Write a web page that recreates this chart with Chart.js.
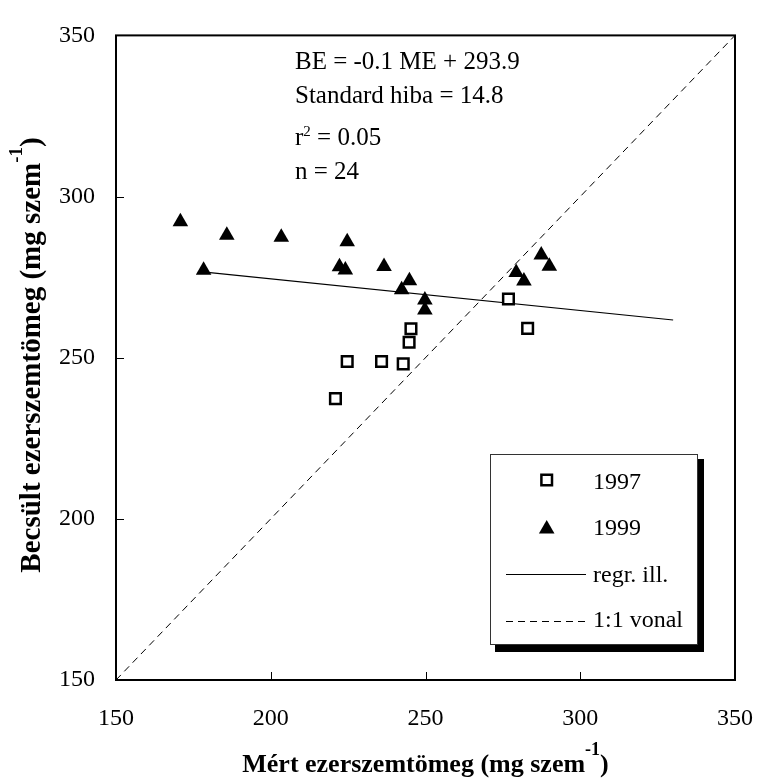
<!DOCTYPE html>
<html>
<head>
<meta charset="utf-8">
<script src="https://cdn.jsdelivr.net/npm/chart.js@4"></script>
<style>
	body { margin: 0; background: #fff; }
</style>
</head>
<body>
<canvas id="myChart" width="777" height="778"></canvas>
<script>

// 1997 (open squares)
const x1997 = [276.8, 283.0, 245.3, 244.7, 224.7, 235.8, 242.8, 220.9]
const y1997 = [268.2, 259.1, 259.0, 254.8, 248.8, 248.8, 248.1, 237.3]

// 1999 (filled triangles)
const x1999 = [170.8, 185.8, 203.4, 224.7, 178.3, 222.2, 224.1, 236.6, 244.8, 242.3, 249.8, 249.8, 287.4, 290.0, 279.3, 281.8]
const y1999 = [292.2, 288.0, 287.4, 286.0, 277.1, 278.2, 277.2, 278.3, 273.9, 271.1, 267.9, 264.8, 281.9, 278.4, 276.4, 273.8]

// regression line ends and the 1:1 line
const regX = [178, 330]
const regY = [276.6, 261.7]
const diagX = [150, 350]
const diagY = [150, 350]

const tickValues = [150, 200, 250, 300, 350]

const statLines = ['BE = -0.1 ME + 293.9', 'Standard hiba = 14.8', '0.05', 'n = 24']
const legendLabels = ['1997', '1999', 'regr. ill.', '1:1 vonal']

const serif = "'Liberation Serif', 'Times New Roman', serif"

function toPoints(xs, ys) {
	return xs.map((x, i) => ({ x: x, y: ys[i] }))
}

// draws text made of pieces (for superscripts)
function richText(ctx, parts, x, y, align) {
	let total = 0
	parts.forEach(p => {
		ctx.font = p.font
		p.w = ctx.measureText(p.text).width
		total += p.w
	})
	let cx = align === 'center' ? x - total / 2 : x
	ctx.textAlign = 'left'
	ctx.textBaseline = 'alphabetic'
	parts.forEach(p => {
		ctx.font = p.font
		ctx.fillText(p.text, cx, y + (p.dy || 0))
		cx += p.w
	})
}

function square(ctx, x, y) {
	const s = 5.3
	ctx.fillStyle = '#fff'
	ctx.strokeStyle = '#000'
	ctx.lineWidth = 2.5
	ctx.beginPath()
	ctx.rect(x - s, y - s, 2 * s, 2 * s)
	ctx.fill()
	ctx.stroke()
}

function triangle(ctx, x, y) {
	const r = 9
	ctx.fillStyle = '#000'
	ctx.beginPath()
	for (let i = 0; i < 3; i++) {
		const a = i * 2 * Math.PI / 3
		const px = x + Math.sin(a) * r
		const py = y - Math.cos(a) * r
		if (i == 0) ctx.moveTo(px, py)
		else ctx.lineTo(px, py)
	}
	ctx.closePath()
	ctx.fill()
}

const chartDecor = {
	id: 'chartDecor',
	afterDraw(chart) {
		const ctx = chart.ctx
		const area = chart.chartArea
		const xs = chart.scales.x
		const ys = chart.scales.y
		ctx.save()

		// frame
		ctx.strokeStyle = '#000'
		ctx.lineWidth = 2
		ctx.strokeRect(area.left, area.top, area.right - area.left, area.bottom - area.top)

		// inward tick marks
		ctx.lineWidth = 1
		ctx.beginPath()
		tickValues.forEach(v => {
			const px = Math.round(xs.getPixelForValue(v)) + 0.5
			ctx.moveTo(px, area.bottom)
			ctx.lineTo(px, area.bottom - 8)
			const py = Math.round(ys.getPixelForValue(v)) + 0.5
			ctx.moveTo(area.left, py)
			ctx.lineTo(area.left + 8, py)
		})
		ctx.stroke()

		// stats text
		ctx.fillStyle = '#000'
		const f = '25px ' + serif
		richText(ctx, [{ text: statLines[0], font: f }], 295, 69, 'left')
		richText(ctx, [{ text: statLines[1], font: f }], 295, 103, 'left')
		richText(ctx, [
			{ text: 'r', font: f },
			{ text: '2', font: '15px ' + serif, dy: -9 },
			{ text: ' = ' + statLines[2], font: f }
		], 295, 145, 'left')
		richText(ctx, [{ text: statLines[3], font: f }], 295, 179, 'left')

		// axis titles
		const bf = 'bold 26px ' + serif
		richText(ctx, [
			{ text: 'Mért ezerszemtömeg (mg szem', font: bf },
			{ text: '-1', font: 'bold 18px ' + serif, dy: -17 },
			{ text: ')', font: bf }
		], (area.left + area.right) / 2, 771.5, 'center')

		ctx.save()
		ctx.translate(40, 355)
		ctx.rotate(-Math.PI / 2)
		richText(ctx, [
			{ text: 'Becsült ezerszemtömeg (mg szem', font: 'bold 29px ' + serif },
			{ text: '-1', font: 'bold 19px ' + serif, dy: -18 },
			{ text: ')', font: 'bold 29px ' + serif }
		], 0, 0, 'center')
		ctx.restore()

		// legend box with shadow
		ctx.fillStyle = '#000'
		ctx.fillRect(495, 459, 209, 193)
		ctx.fillStyle = '#fff'
		ctx.fillRect(490, 454, 208, 191)
		ctx.strokeStyle = '#333'
		ctx.lineWidth = 1
		ctx.strokeRect(490.5, 454.5, 207, 190)

		square(ctx, 546.7, 480)
		triangle(ctx, 546.7, 529)

		ctx.strokeStyle = '#000'
		ctx.lineWidth = 1.2
		ctx.beginPath()
		ctx.moveTo(506, 574.5)
		ctx.lineTo(586, 574.5)
		ctx.stroke()
		ctx.lineWidth = 1
		ctx.setLineDash([7, 5])
		ctx.beginPath()
		ctx.moveTo(506, 621.5)
		ctx.lineTo(586, 621.5)
		ctx.stroke()
		ctx.setLineDash([])

		ctx.fillStyle = '#000'
		const lf = '24px ' + serif
		const baselines = [488.5, 535, 581.5, 627]
		legendLabels.forEach((t, i) => {
			richText(ctx, [{ text: t, font: lf }], 593, baselines[i], 'left')
		})

		ctx.restore()
	}
}

const data = {
	datasets: [
		{
			label: '1997',
			data: toPoints(x1997, y1997),
			pointStyle: 'rect',
			pointRadius: 7.5,
			pointBorderWidth: 2.5,
			pointBackgroundColor: '#fff',
			pointBorderColor: '#000',
			showLine: false,
			order: 0
		},
		{
			label: '1999',
			data: toPoints(x1999, y1999),
			pointStyle: 'triangle',
			pointRadius: 9,
			pointBorderWidth: 0,
			pointBackgroundColor: '#000',
			pointBorderColor: '#000',
			showLine: false,
			order: 0
		},
		{
			label: 'regr. ill.',
			data: toPoints(regX, regY),
			showLine: true,
			borderColor: '#000',
			borderWidth: 1.2,
			pointRadius: 0,
			fill: false,
			order: 1
		},
		{
			label: '1:1 vonal',
			data: toPoints(diagX, diagY),
			showLine: true,
			borderColor: '#000',
			borderWidth: 1,
			borderDash: [7, 5],
			pointRadius: 0,
			fill: false,
			order: 2
		}
	]
}

const config = {
	type: 'scatter',
	data: data,
	options: {
		responsive: false,
		animation: false,
		layout: {
			padding: { top: 20, right: 23.5, left: 0, bottom: 0 }
		},
		plugins: {
			legend: { display: false },
			tooltip: { enabled: false }
		},
		scales: {
			x: {
				type: 'linear',
				min: 150,
				max: 350,
				afterFit: (scale) => { scale.height = 98 },
				afterBuildTicks: (scale) => { scale.ticks = tickValues.map(v => ({ value: v })) },
				ticks: {
					padding: 24,
					color: '#000',
					font: { family: serif, size: 24 }
				},
				grid: { display: false, drawTicks: false },
				border: { display: false }
			},
			y: {
				type: 'linear',
				min: 150,
				max: 350,
				afterFit: (scale) => { scale.width = 116 },
				afterBuildTicks: (scale) => { scale.ticks = tickValues.map(v => ({ value: v })) },
				ticks: {
					padding: 21,
					color: '#000',
					font: { family: serif, size: 24 }
				},
				grid: { display: false, drawTicks: false },
				border: { display: false }
			}
		}
	},
	plugins: [chartDecor]
}

const ctx = document.getElementById('myChart').getContext('2d')
const myChart = new Chart(ctx, config)
</script>
</body>
</html>
